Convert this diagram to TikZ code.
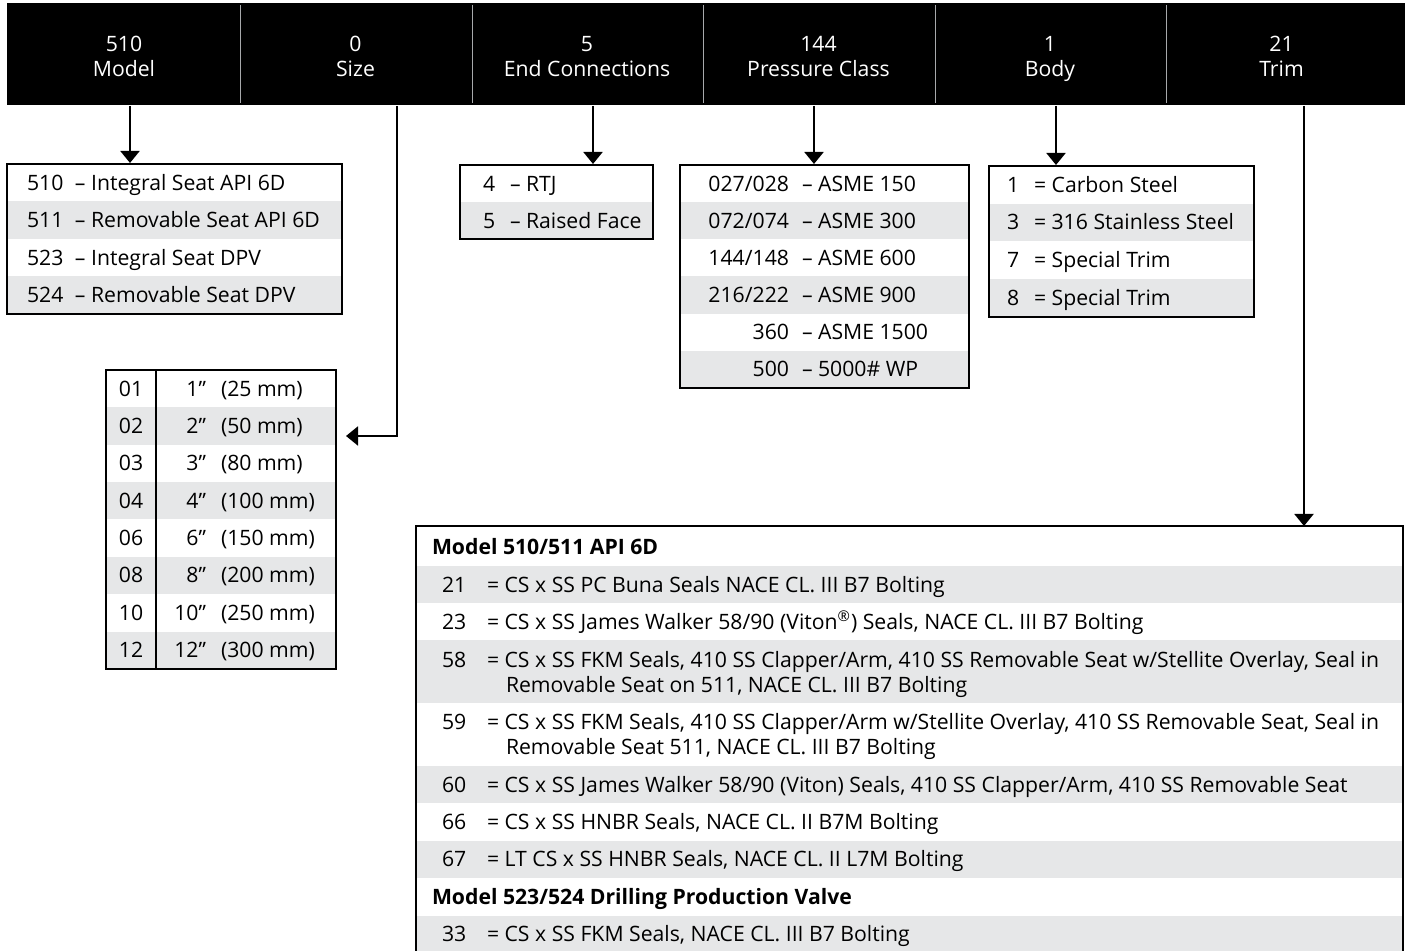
\documentclass[tikz,border=0pt]{standalone}
\usepackage{fontspec}
\setmainfont{Open Sans}
\usetikzlibrary{arrows.meta, fit}
\definecolor{rowgray}{HTML}{E6E7E8}
\definecolor{divgray}{HTML}{A7A9AC}

\begin{document}
\begin{tikzpicture}[
    x=0.5pt, y=-0.5pt,
    >={Triangle[width=9.5pt, length=6pt]},
    line width=1pt,
    font=\fontsize{10.6}{12.5}\selectfont,
    hdr/.style={text=white, align=center, minimum width=115.75pt, minimum height=51pt, inner sep=0pt},
    divider/.style={draw=divgray, line width=0.7pt, shorten <=1.5pt, shorten >=1.5pt},
    tab/.style={draw, line width=1pt, inner sep=0pt},
    band/.style={fill=rowgray},
    txt/.style={anchor=west, inner sep=0pt, text height=7.4pt, text depth=0pt},
    num/.style={txt, anchor=east},
    mid/.style={txt, anchor=center},
    arr/.style={->, line width=1pt}
]
    \useasboundingbox (0,0) rectangle (1405,951);

    % Header bar with the ordering code
    \fill[black] (7,3) rectangle (1405,105);
    \node[hdr] (hmodel) at (124,54) {\rule{0pt}{13.75pt}510\\Model\strut};
    \node[hdr] (hsize) at (355.5,54) {\rule{0pt}{13.75pt}0\\Size\strut};
    \node[hdr] (hend) at (587,54) {\rule{0pt}{13.75pt}5\\End Connections\strut};
    \node[hdr] (hpress) at (818.5,54) {\rule{0pt}{13.75pt}144\\Pressure Class\strut};
    \node[hdr] (hbody) at (1050,54) {\rule{0pt}{13.75pt}1\\Body\strut};
    \node[hdr] (htrim) at (1281.5,54) {\rule{0pt}{13.75pt}21\\Trim\strut};
    \draw[divider] (hmodel.north east) -- (hmodel.south east);
    \draw[divider] (hsize.north east) -- (hsize.south east);
    \draw[divider] (hend.north east) -- (hend.south east);
    \draw[divider] (hpress.north east) -- (hpress.south east);
    \draw[divider] (hbody.north east) -- (hbody.south east);

    % Model table
    \fill[band] (7,201.5) rectangle (342,239);
    \fill[band] (7,276.5) rectangle (342,314);
    \node[tab, fit={(7,164) (342,314)}] (modeltab) {};
    \node[txt] (mc1) at (26,183) {510};
    \node[txt] (md1) at (74,183) {– Integral Seat API 6D};
    \node[txt] (mc2) at (26,220) {511};
    \node[txt] (md2) at (74,220) {– Removable Seat API 6D};
    \node[txt] (mc3) at (26,258) {523};
    \node[txt] (md3) at (74,258) {– Integral Seat DPV};
    \node[txt] (mc4) at (26,295) {524};
    \node[txt] (md4) at (74,295) {– Removable Seat DPV};

    % Size table
    \fill[band] (106,407.4) rectangle (336,444.8);
    \fill[band] (106,482.1) rectangle (336,519.5);
    \fill[band] (106,556.9) rectangle (336,594.3);
    \fill[band] (106,631.6) rectangle (336,669);
    \draw[line width=0.6pt] (156,370) -- (156,669);
    \node[tab, fit={(106,370) (336,669)}] (sizetab) {};
    \node[mid] (sc1) at (131,389) {01};
    \node[num] (si1) at (207,389) {1”};
    \node[txt] (sm1) at (220,389) {(25 mm)};
    \node[mid] (sc2) at (131,426) {02};
    \node[num] (si2) at (207,426) {2”};
    \node[txt] (sm2) at (220,426) {(50 mm)};
    \node[mid] (sc3) at (131,463.5) {03};
    \node[num] (si3) at (207,463.5) {3”};
    \node[txt] (sm3) at (220,463.5) {(80 mm)};
    \node[mid] (sc4) at (131,501) {04};
    \node[num] (si4) at (207,501) {4”};
    \node[txt] (sm4) at (220,501) {(100 mm)};
    \node[mid] (sc5) at (131,538) {06};
    \node[num] (si5) at (207,538) {6”};
    \node[txt] (sm5) at (220,538) {(150 mm)};
    \node[mid] (sc6) at (131,575.6) {08};
    \node[num] (si6) at (207,575.6) {8”};
    \node[txt] (sm6) at (220,575.6) {(200 mm)};
    \node[mid] (sc7) at (131,613) {10};
    \node[num] (si7) at (207,613) {10”};
    \node[txt] (sm7) at (220,613) {(250 mm)};
    \node[mid] (sc8) at (131,650) {12};
    \node[num] (si8) at (207,650) {12”};
    \node[txt] (sm8) at (220,650) {(300 mm)};

    % End connections table
    \fill[band] (460,202) rectangle (653,239);
    \node[tab, fit={(460,165) (653,239)}] (endtab) {};
    \node[txt] (ec1) at (482,184) {4};
    \node[txt] (ed1) at (509,184) {– RTJ};
    \node[txt] (ec2) at (482,221) {5};
    \node[txt] (ed2) at (509,221) {– Raised Face};

    % Pressure class table
    \fill[band] (680,202.2) rectangle (969,239.3);
    \fill[band] (680,276.5) rectangle (969,313.7);
    \fill[band] (680,350.8) rectangle (969,388);
    \node[tab, fit={(680,165) (969,388)}] (presstab) {};
    \node[num] (pc1) at (790,184) {027/028};
    \node[txt] (pd1) at (801,184) {– ASME 150};
    \node[num] (pc2) at (790,221) {072/074};
    \node[txt] (pd2) at (801,221) {– ASME 300};
    \node[num] (pc3) at (790,258) {144/148};
    \node[txt] (pd3) at (801,258) {– ASME 600};
    \node[num] (pc4) at (790,295) {216/222};
    \node[txt] (pd4) at (801,295) {– ASME 900};
    \node[num] (pc5) at (790,332.5) {360};
    \node[txt] (pd5) at (801,332.5) {– ASME 1500};
    \node[num] (pc6) at (790,369.5) {500};
    \node[txt] (pd6) at (801,369.5) {– 5000\# WP};

    % Body table
    \fill[band] (989,203.75) rectangle (1254,241.5);
    \fill[band] (989,279.25) rectangle (1254,317);
    \node[tab, fit={(989,166) (1254,317)}] (bodytab) {};
    \node[txt] (bc1) at (1006,185) {1};
    \node[txt] (bd1) at (1033,185) {= Carbon Steel};
    \node[txt] (bc2) at (1006,222.5) {3};
    \node[txt] (bd2) at (1033,222.5) {= 316 Stainless Steel};
    \node[txt] (bc3) at (1006,260.5) {7};
    \node[txt] (bd3) at (1033,260.5) {= Special Trim};
    \node[txt] (bc4) at (1006,298) {8};
    \node[txt] (bd4) at (1033,298) {= Special Trim};

    % Trim table (runs off the bottom edge)
    \fill[band] (417,566) rectangle (1402,603);
    \fill[band] (417,640) rectangle (1402,703);
    \fill[band] (417,766) rectangle (1402,803);
    \fill[band] (417,841) rectangle (1402,878);
    \fill[band] (417,916) rectangle (1402,951);
    \node[fit={(417,527) (1402,951)}, inner sep=0pt] (trimtab) {};
    \draw (trimtab.south west) |- (trimtab.north east) -- (trimtab.south east);
    \node[txt, font=\fontsize{10.6}{12.5}\selectfont\bfseries] (th1) at (431,547) {Model 510/511 API 6D};
    \node[txt] (tc21) at (441,585) {21};
    \node[txt] (td21) at (486,585) {= CS x SS PC Buna Seals NACE CL. III B7 Bolting};
    \node[txt] (tc23) at (441,622) {23};
    \node[txt] (td23) at (486,622) {= CS x SS James Walker 58/90 (Viton\textsuperscript{®}) Seals, NACE CL. III B7 Bolting};
    \node[txt] (tc58) at (441,660) {58};
    \node[txt] (td58) at (486,660) {= CS x SS FKM Seals, 410 SS Clapper/Arm, 410 SS Removable Seat w/Stellite Overlay, Seal in};
    \node[txt] (te58) at (505,685) {Removable Seat on 511, NACE CL. III B7 Bolting};
    \node[txt] (tc59) at (441,722) {59};
    \node[txt] (td59) at (486,722) {= CS x SS FKM Seals, 410 SS Clapper/Arm w/Stellite Overlay, 410 SS Removable Seat, Seal in};
    \node[txt] (te59) at (505,747) {Removable Seat 511, NACE CL. III B7 Bolting};
    \node[txt] (tc60) at (441,785) {60};
    \node[txt] (td60) at (486,785) {= CS x SS James Walker 58/90 (Viton) Seals, 410 SS Clapper/Arm, 410 SS Removable Seat};
    \node[txt] (tc66) at (441,822) {66};
    \node[txt] (td66) at (486,822) {= CS x SS HNBR Seals, NACE CL. II B7M Bolting};
    \node[txt] (tc67) at (441,859) {67};
    \node[txt] (td67) at (486,859) {= LT CS x SS HNBR Seals, NACE CL. II L7M Bolting};
    \node[txt, font=\fontsize{10.6}{12.5}\selectfont\bfseries] (th2) at (431,897) {Model 523/524 Drilling Production Valve};
    \node[txt] (tc33) at (441,934) {33};
    \node[txt] (td33) at (486,934) {= CS x SS FKM Seals, NACE CL. III B7 Bolting};

    % Connectors from the header to the tables
    \coordinate (xmodel) at (130,0);
    \coordinate (ssize) at (397,436);
    \coordinate (xend) at (593,0);
    \coordinate (xpress) at (814,0);
    \coordinate (xbody) at (1056,0);
    \coordinate (xtrim) at (1304,0);
    \draw[arr] (hmodel.south -| xmodel) -- (modeltab.north -| xmodel);
    \draw[arr, shorten >=4.5pt] (hsize.south -| ssize) |- (sizetab.east |- ssize);
    \draw[arr] (hend.south -| xend) -- (endtab.north -| xend);
    \draw[arr] (hpress.south -| xpress) -- (presstab.north -| xpress);
    \draw[arr] (hbody.south -| xbody) -- (bodytab.north -| xbody);
    \draw[arr] (htrim.south -| xtrim) -- (trimtab.north -| xtrim);

\end{tikzpicture}
\end{document}
